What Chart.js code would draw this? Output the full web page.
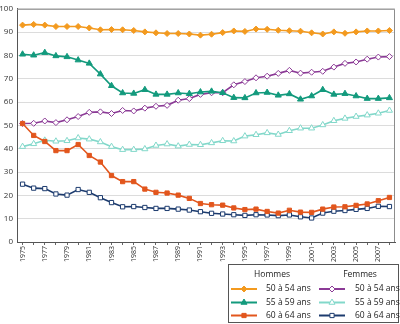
<!DOCTYPE html>
<html>
<head>
<meta charset="utf-8">
<script src="https://cdn.jsdelivr.net/npm/chart.js@4/dist/chart.umd.min.js"></script>
<style>
    html, body { margin: 0; padding: 0; background: #fff; }
    #wrap { width: 400px; height: 324px; }
</style>
</head>
<body>
<div id="wrap"><canvas id="activityChart" width="400" height="324"></canvas></div>
<script>
// Taux d'activité par sexe et tranche d'âge, 1975-2008 (%)
const years = ['1975', '1976', '1977', '1978', '1979', '1980', '1981', '1982', '1983', '1984',
    '1985', '1986', '1987', '1988', '1989', '1990', '1991', '1992', '1993', '1994',
    '1995', '1996', '1997', '1998', '1999', '2000', '2001', '2002', '2003', '2004',
    '2005', '2006', '2007', '2008'];

const hommes5054 = [93.0, 93.3, 93.0, 92.4, 92.4, 92.4, 91.8, 91.0, 91.1, 91.0,
    90.7, 90.1, 89.7, 89.4, 89.4, 89.2, 88.7, 89.1, 89.8, 90.5,
    90.3, 91.3, 91.2, 90.8, 90.6, 90.4, 89.7, 89.2, 90.1, 89.5,
    90.1, 90.5, 90.5, 90.7];
const hommes5559 = [80.5, 80.1, 81.2, 79.8, 79.4, 78.0, 76.6, 72.0, 67.0, 63.9,
    63.7, 65.3, 63.3, 63.3, 63.9, 63.6, 64.3, 64.6, 64.0, 61.9,
    61.8, 63.9, 64.1, 62.9, 63.5, 61.2, 62.6, 65.3, 63.3, 63.6,
    62.6, 61.5, 61.5, 61.8];
const hommes6064 = [50.8, 45.7, 43.1, 39.2, 39.2, 41.8, 37.1, 34.3, 28.5, 25.9,
    25.9, 22.7, 21.3, 21.0, 20.1, 18.7, 16.5, 16.0, 15.8, 14.6,
    13.9, 14.1, 13.1, 12.4, 13.6, 12.8, 12.7, 14.1, 15.0, 15.1,
    15.7, 16.3, 17.7, 19.1];
const femmes5054 = [50.8, 50.9, 51.9, 51.2, 52.4, 53.8, 55.6, 55.8, 55.1, 56.4,
    56.2, 57.4, 58.2, 58.6, 60.8, 61.5, 63.3, 64.0, 64.0, 67.4,
    68.8, 70.4, 71.1, 72.3, 73.6, 72.4, 72.8, 73.2, 75.0, 76.6,
    77.2, 78.4, 79.3, 79.5];
const femmes5559 = [40.9, 42.1, 43.6, 43.2, 43.4, 44.6, 44.1, 42.9, 40.9, 39.6,
    39.6, 39.9, 41.4, 42.0, 41.1, 41.8, 41.7, 42.5, 43.4, 43.3,
    45.4, 46.0, 46.8, 46.1, 47.7, 48.8, 48.8, 50.2, 52.0, 53.0,
    53.8, 54.4, 55.2, 56.4];
const femmes6064 = [24.8, 23.1, 22.9, 20.6, 20.1, 22.5, 21.3, 19.0, 16.9, 15.1,
    15.2, 14.8, 14.4, 14.4, 14.1, 13.7, 13.0, 12.3, 12.0, 11.7,
    11.4, 11.7, 11.6, 11.3, 11.6, 10.8, 10.3, 12.4, 13.2, 13.5,
    14.0, 14.4, 15.3, 15.2];

const groupHeaders = ['Hommes', 'Femmes'];
const FONT = '"Open Sans", "DejaVu Sans", sans-serif';

function series(label, data, color, pointStyle, hollow, radius) {
    return {
        label: label,
        data: data,
        borderColor: color,
        backgroundColor: hollow ? '#ffffff' : color,
        borderWidth: 1.6,
        pointStyle: pointStyle,
        pointRadius: radius,
        pointBorderWidth: 1,
        pointBorderColor: color,
        pointBackgroundColor: hollow ? '#ffffff' : color,
        tension: 0,
    };
}

const datasets = [
    series('50 à 54 ans', hommes5054, '#f39a1f', 'rectRot', false, 3),
    series('55 à 59 ans', hommes5559, '#139a7d', 'triangle', false, 3.5),
    series('60 à 64 ans', hommes6064, '#e2561d', 'rect', false, 3),
    series('50 à 54 ans', femmes5054, '#8b3a96', 'rectRot', true, 3),
    series('55 à 59 ans', femmes5559, '#82d8ca', 'triangle', true, 3.5),
    series('60 à 64 ans', femmes6064, '#1c3b6e', 'rect', true, 3),
];

/**
 * Box around the plot (top and right edges)
 */
const frame = {
    id: 'frame',
    afterDraw(chart) {
        const { ctx, chartArea: a } = chart;
        ctx.save();
        ctx.strokeStyle = '#8c8c8c';
        ctx.lineWidth = 1;
        ctx.beginPath();
        ctx.moveTo(a.left, a.top + 0.5);
        ctx.lineTo(a.right - 0.5, a.top + 0.5);
        ctx.lineTo(a.right - 0.5, a.bottom);
        ctx.stroke();
        ctx.restore();
    }
};

/**
 * Two-column legend: men on the left, women on the right
 */
const groupedLegend = {
    id: 'groupedLegend',
    afterDraw(chart) {
        const ctx = chart.ctx;
        const sets = chart.data.datasets;
        const box = { left: 228.5, top: 264.5, right: 398.5, bottom: 322.5 };
        const cols = [
            { header: 272, lineFrom: 231, lineTo: 257, text: 266, items: [0, 1, 2] },
            { header: 360, lineFrom: 319, lineTo: 345, text: 355, items: [3, 4, 5] },
        ];
        const rowsY = [289, 302.5, 315.5];

        ctx.save();
        ctx.strokeStyle = '#555';
        ctx.lineWidth = 1;
        ctx.strokeRect(box.left, box.top, box.right - box.left, box.bottom - box.top);

        ctx.fillStyle = '#222';
        ctx.font = '8.5px ' + FONT;
        ctx.textBaseline = 'middle';
        cols.forEach((col, c) => {
            ctx.textAlign = 'center';
            ctx.fillStyle = '#222';
            ctx.fillText(groupHeaders[c], col.header, 275);

            col.items.forEach((idx, r) => {
                const ds = sets[idx];
                const y = rowsY[r];
                ctx.strokeStyle = ds.borderColor;
                ctx.lineWidth = 2;
                ctx.beginPath();
                ctx.moveTo(col.lineFrom, y);
                ctx.lineTo(col.lineTo, y);
                ctx.stroke();

                ctx.fillStyle = ds.pointBackgroundColor;
                ctx.strokeStyle = ds.borderColor;
                ctx.lineWidth = 1;
                Chart.helpers.drawPoint(ctx, {
                    pointStyle: ds.pointStyle,
                    radius: ds.pointRadius,
                    rotation: 0,
                    borderWidth: 1,
                }, (col.lineFrom + col.lineTo) / 2, y);

                ctx.fillStyle = '#222';
                ctx.textAlign = 'left';
                ctx.fillText(ds.label, col.text, y);
            });
        });
        ctx.restore();
    }
};

new Chart(document.getElementById('activityChart'), {
    type: 'line',
    data: { labels: years, datasets: datasets },
    options: {
        responsive: false,
        animation: false,
        layout: { padding: { top: 3, right: 2, left: 0, bottom: 0 } },
        plugins: {
            legend: { display: false },
            tooltip: { enabled: false },
        },
        scales: {
            x: {
                offset: true,
                grid: { drawOnChartArea: false, tickLength: 3, color: '#666' },
                border: { color: '#555' },
                ticks: {
                    autoSkip: false,
                    minRotation: 90,
                    maxRotation: 90,
                    padding: 1,
                    color: '#333',
                    font: { family: FONT, size: 7 },
                    callback: (value, i) => (i % 2 === 0 ? years[i] : ''),
                },
                afterFit: (scale) => { scale.height = 82; },
            },
            y: {
                min: 0,
                max: 100,
                grid: { color: '#dcdcdc', drawTicks: false },
                border: { color: '#555' },
                ticks: {
                    stepSize: 10,
                    padding: 4,
                    color: '#333',
                    font: { family: FONT, size: 8 },
                },
                afterFit: (scale) => { scale.width = 17; },
            },
        },
    },
    plugins: [frame, groupedLegend],
});
</script>
</body>
</html>
